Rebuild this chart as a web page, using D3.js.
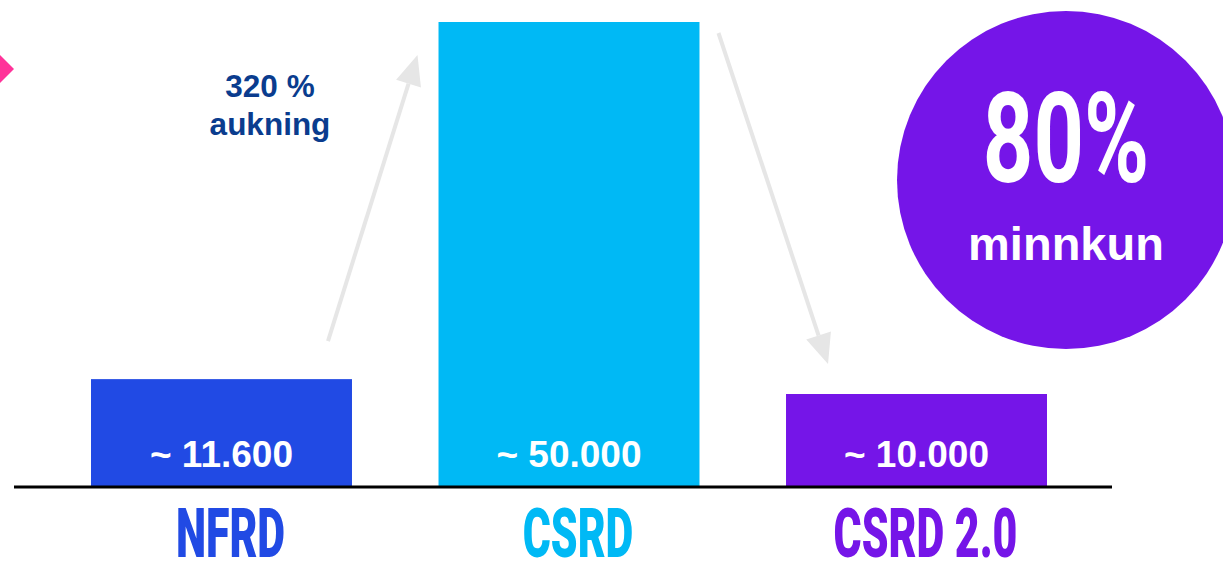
<!DOCTYPE html>
<html><head><meta charset="utf-8">
<script src="https://cdn.jsdelivr.net/npm/d3@7"></script>
<style>
html,body{margin:0;padding:0;background:#fff;overflow:hidden;}
svg{display:block;}
</style></head>
<body>
<svg id="c" width="1223" height="562"></svg>
<script>
// Data
const categories = ["NFRD", "CSRD", "CSRD 2.0"];
const values = [11600, 50000, 10000];
const valueLabels = ["~ 11.600", "~ 50.000", "~ 10.000"];
const colors = ["#214AE4", "#00B9F5", "#7515E8"];
const increaseLabel = ["320 %", "aukning"];
const reductionLabel = ["80%", "minnkun"];

const svg = d3.select("#c");
const baseY = 487;

const x = d3.scaleBand().domain(categories).range([91, 1047]).paddingInner(0.249).paddingOuter(0);
const y = d3.scaleLinear().domain([0, 50000]).range([baseY, 22]);

// pink diamond at left edge
svg.append("path")
  .attr("d", "M0,55 L14,69 L0,83 L-14,69 Z")
  .attr("fill", "#FF3399");

// purple circle
const cx = 1066, cy = 180, r = 169;
svg.append("circle").attr("cx", cx).attr("cy", cy).attr("r", r).attr("fill", "#7515E8");

// bars
svg.selectAll("rect.bar").data(categories).join("rect")
  .attr("class", "bar")
  .attr("x", d => x(d))
  .attr("y", (d, i) => y(values[i]))
  .attr("width", x.bandwidth())
  .attr("height", (d, i) => baseY - y(values[i]))
  .attr("fill", (d, i) => colors[i]);

// value labels
svg.selectAll("text.val").data(categories).join("text")
  .attr("class", "val")
  .attr("x", d => x(d) + x.bandwidth() / 2)
  .attr("y", baseY - 20)
  .attr("text-anchor", "middle")
  .attr("font-family", "Liberation Sans, Arial, sans-serif")
  .attr("font-weight", "bold")
  .attr("font-size", 37)
  .attr("fill", "#fff")
  .text((d, i) => valueLabels[i]);

// baseline
svg.append("line")
  .attr("x1", 14).attr("x2", 1112)
  .attr("y1", baseY).attr("y2", baseY)
  .attr("stroke", "#000").attr("stroke-width", 3);

// category labels (condensed)
const sx = 0.63;
svg.selectAll("text.cat").data(categories).join("text")
  .attr("class", "cat")
  .attr("transform", d => `translate(${x(d) + x.bandwidth() / 2 + 9},557) scale(${sx},1)`)
  .attr("text-anchor", "middle")
  .attr("font-family", "Roboto, sans-serif")
  .attr("font-weight", 900)
  .attr("font-size", 68)
  .attr("fill", (d, i) => colors[i])
  .text(d => d);

// arrows
const arrowColor = "#E6E6E6";
function arrow(x1, y1, x2, y2) {
  const ang = Math.atan2(y2 - y1, x2 - x1);
  const hl = 30, hw = 13;
  const bx = x2 - hl * Math.cos(ang), by = y2 - hl * Math.sin(ang);
  svg.append("line").attr("x1", x1).attr("y1", y1).attr("x2", bx).attr("y2", by)
    .attr("stroke", arrowColor).attr("stroke-width", 4);
  const px = -Math.sin(ang), py = Math.cos(ang);
  svg.append("path")
    .attr("d", `M${x2},${y2} L${bx + px * hw},${by + py * hw} L${bx - px * hw},${by - py * hw} Z`)
    .attr("fill", arrowColor);
}
const b0 = x(categories[0]), b1 = x(categories[1]), b2 = x(categories[2]);
arrow(b0 + x.bandwidth() - 24, y(values[0]) - 38, b1 - 21, y(values[1]) + 33);
arrow(b1 + x.bandwidth() + 19, y(values[1]) + 11, b2 + 42, y(values[2]) - 30);

// increase annotation
svg.selectAll("text.inc").data(increaseLabel).join("text")
  .attr("class", "inc")
  .attr("x", 270)
  .attr("y", (d, i) => 97 + i * 38)
  .attr("text-anchor", "middle")
  .attr("font-family", "Liberation Sans, Arial, sans-serif")
  .attr("font-weight", "bold")
  .attr("font-size", 31.5)
  .attr("fill", "#0A3C8E")
  .text(d => d);

// circle text
svg.append("text")
  .attr("transform", `translate(${cx},182) scale(0.7,1)`)
  .attr("text-anchor", "middle")
  .attr("font-family", "Roboto, sans-serif")
  .attr("font-weight", "bold")
  .attr("font-size", 126)
  .attr("fill", "#fff")
  .text(reductionLabel[0]);
svg.append("text")
  .attr("x", cx).attr("y", 260)
  .attr("text-anchor", "middle")
  .attr("font-family", "Liberation Sans, Arial, sans-serif")
  .attr("font-weight", "bold")
  .attr("font-size", 47)
  .attr("fill", "#fff")
  .text(reductionLabel[1]);
</script>
</body></html>
